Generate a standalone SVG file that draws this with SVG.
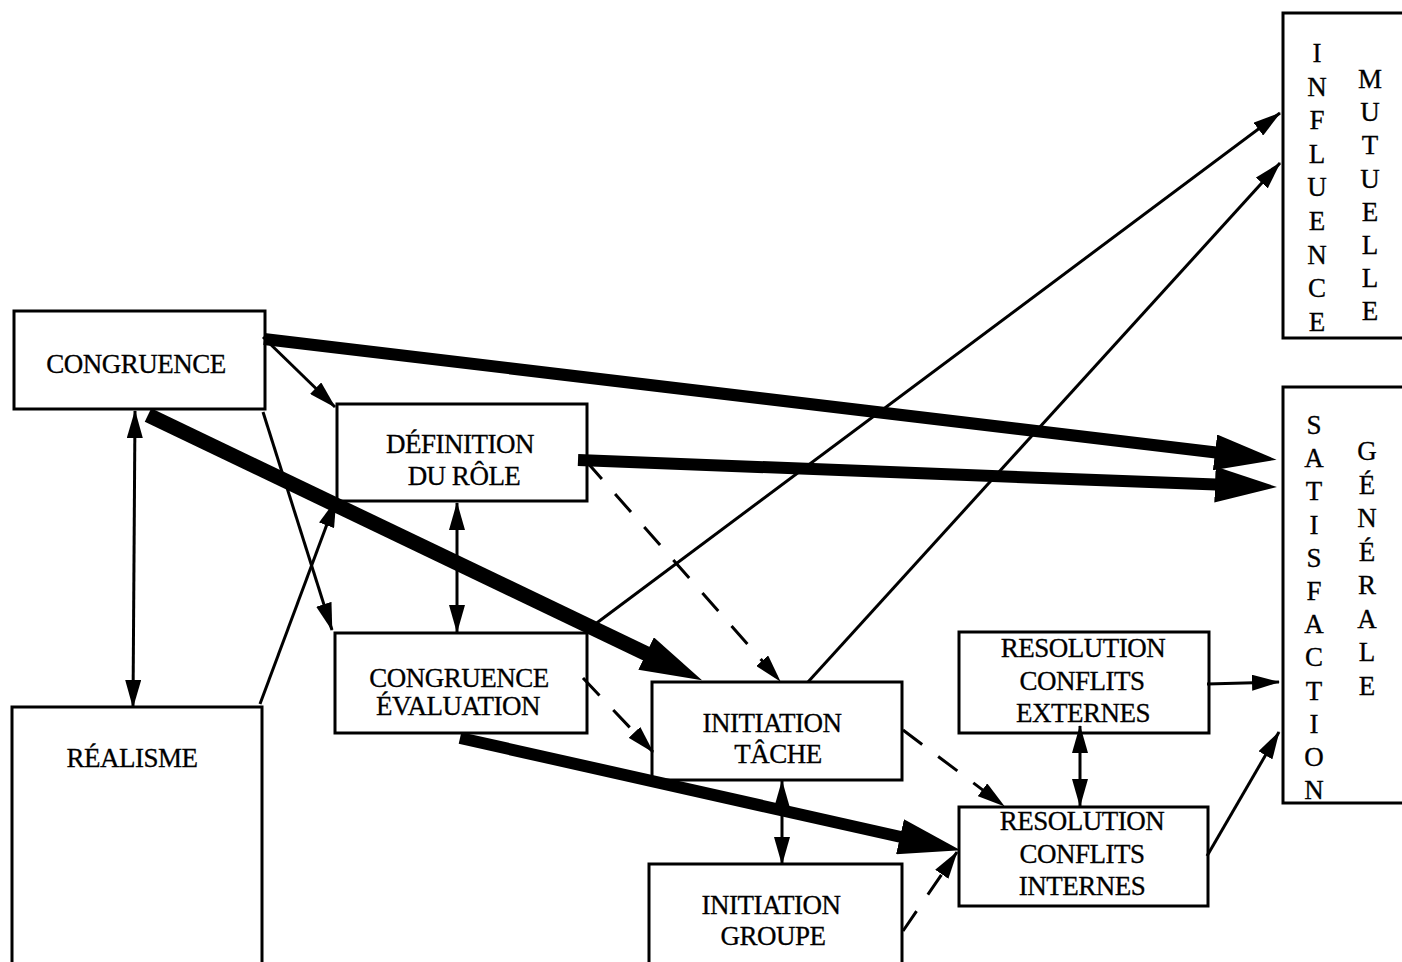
<svg xmlns="http://www.w3.org/2000/svg" width="1402" height="962" viewBox="0 0 1402 962">
  <style>
    .box { fill: #fff; stroke: #000; stroke-width: 3; }
    .lbl { font-family: "Liberation Serif", "Times New Roman", serif; font-size: 27px; letter-spacing: -0.5px; text-anchor: middle; fill: #000; stroke: #000; stroke-width: 0.3; }
    .vl { font-family: "Liberation Serif", "Times New Roman", serif; font-size: 27px; text-anchor: middle; fill: #000; stroke: #000; stroke-width: 0.3; }
    .thin { fill: none; stroke: #000; stroke-width: 3; marker-end: url(#ah); }
    .bi { fill: none; stroke: #000; stroke-width: 3; marker-start: url(#ah); marker-end: url(#ah); }
    .dash { fill: none; stroke: #000; stroke-width: 3; stroke-dasharray: 24 20; marker-end: url(#ah); }
    .thick { fill: none; stroke: #000; stroke-width: 12; marker-end: url(#big); }
  </style>
  <defs>
    <marker id="ah" markerUnits="userSpaceOnUse" viewBox="0 0 28 16" markerWidth="28" markerHeight="16" refX="27" refY="8" orient="auto-start-reverse">
      <path d="M0,0 L28,8 L0,16 z" fill="#000"/>
    </marker>
    <marker id="big" markerUnits="userSpaceOnUse" viewBox="0 0 62 36" markerWidth="62" markerHeight="36" refX="1" refY="18" orient="auto">
      <path d="M0,0 L62,18 L0,36 z" fill="#000"/>
    </marker>
  </defs>

  <rect width="1402" height="962" fill="#fff"/>

  <g id="congruence">
    <rect class="box" x="14" y="311" width="251" height="98"/>
    <text class="lbl" x="136" y="373">CONGRUENCE</text>
  </g>
  <g id="realisme">
    <rect class="box" x="12" y="707" width="250" height="280"/>
    <text class="lbl" x="132" y="767">RÉALISME</text>
  </g>
  <g id="definition-role">
    <rect class="box" x="337" y="404" width="250" height="97"/>
    <text class="lbl" x="460" y="453">DÉFINITION</text>
    <text class="lbl" x="464" y="485">DU RÔLE</text>
  </g>
  <g id="congruence-evaluation">
    <rect class="box" x="335" y="633" width="252" height="100"/>
    <text class="lbl" x="459" y="687">CONGRUENCE</text>
    <text class="lbl" x="458" y="715">ÉVALUATION</text>
  </g>
  <g id="initiation-tache">
    <rect class="box" x="652" y="682" width="250" height="98"/>
    <text class="lbl" x="772" y="732">INITIATION</text>
    <text class="lbl" x="778" y="763">TÂCHE</text>
  </g>
  <g id="initiation-groupe">
    <rect class="box" x="649" y="864" width="253" height="130"/>
    <text class="lbl" x="771" y="914">INITIATION</text>
    <text class="lbl" x="773" y="945">GROUPE</text>
  </g>
  <g id="resolution-externes">
    <rect class="box" x="959" y="632" width="250" height="101"/>
    <text class="lbl" x="1083" y="657">RESOLUTION</text>
    <text class="lbl" x="1082" y="690">CONFLITS</text>
    <text class="lbl" x="1083" y="722">EXTERNES</text>
  </g>
  <g id="resolution-internes">
    <rect class="box" x="959" y="807" width="249" height="99"/>
    <text class="lbl" x="1082" y="830">RESOLUTION</text>
    <text class="lbl" x="1082" y="863">CONFLITS</text>
    <text class="lbl" x="1082" y="895">INTERNES</text>
  </g>
  <g id="influence-mutuelle">
    <rect class="box" x="1283" y="13" width="140" height="325"/>
    <text class="vl" x="1317" y="62">I</text>
    <text class="vl" x="1317" y="96">N</text>
    <text class="vl" x="1317" y="129">F</text>
    <text class="vl" x="1317" y="163">L</text>
    <text class="vl" x="1317" y="196">U</text>
    <text class="vl" x="1317" y="230">E</text>
    <text class="vl" x="1317" y="264">N</text>
    <text class="vl" x="1317" y="297">C</text>
    <text class="vl" x="1317" y="331">E</text>
    <text class="vl" x="1370" y="88">M</text>
    <text class="vl" x="1370" y="121">U</text>
    <text class="vl" x="1370" y="154">T</text>
    <text class="vl" x="1370" y="188">U</text>
    <text class="vl" x="1370" y="221">E</text>
    <text class="vl" x="1370" y="254">L</text>
    <text class="vl" x="1370" y="287">L</text>
    <text class="vl" x="1370" y="320">E</text>
  </g>
  <g id="satisfaction-generale">
    <rect class="box" x="1283" y="387" width="140" height="416"/>
    <text class="vl" x="1314" y="434">S</text>
    <text class="vl" x="1314" y="467">A</text>
    <text class="vl" x="1314" y="500">T</text>
    <text class="vl" x="1314" y="534">I</text>
    <text class="vl" x="1314" y="567">S</text>
    <text class="vl" x="1314" y="600">F</text>
    <text class="vl" x="1314" y="633">A</text>
    <text class="vl" x="1314" y="666">C</text>
    <text class="vl" x="1314" y="700">T</text>
    <text class="vl" x="1314" y="733">I</text>
    <text class="vl" x="1314" y="766">O</text>
    <text class="vl" x="1314" y="799">N</text>
    <text class="vl" x="1367" y="460">G</text>
    <text class="vl" x="1367" y="494">É</text>
    <text class="vl" x="1367" y="527">N</text>
    <text class="vl" x="1367" y="561">É</text>
    <text class="vl" x="1367" y="594">R</text>
    <text class="vl" x="1367" y="628">A</text>
    <text class="vl" x="1367" y="661">L</text>
    <text class="vl" x="1367" y="695">E</text>
  </g>

  <g id="connectors">
    <!-- heavy paths -->
    <path class="thick" d="M264,339 L1216,452.5"/>
    <path class="thick" d="M578,460 L1216,484.6"/>
    <path class="thick" style="stroke-width:15" d="M148,415 L647,654"/>
    <path class="thick" d="M460,738 L901,837"/>
    <!-- plain paths -->
    <path class="thin" d="M263,337 L335,407"/>
    <path class="thin" d="M263,412 L332,630"/>
    <path class="thin" d="M260,704 L336,500"/>
    <path class="thin" d="M590,628 L1280,113"/>
    <path class="thin" d="M808,682 L1280,163"/>
    <path class="thin" d="M1207,684 L1279,682"/>
    <path class="thin" d="M1207,856 L1279,732"/>
    <!-- two-way links -->
    <path class="bi" d="M135,411 L133,707"/>
    <path class="bi" d="M457,503 L457,632"/>
    <path class="bi" d="M782,781 L782,864"/>
    <path class="bi" d="M1080,726 L1080,806"/>
    <!-- dashed links -->
    <path class="dash" d="M586,461 L780,681"/>
    <path class="dash" d="M583,678 L653,752"/>
    <path class="dash" d="M903,730 L1004,806"/>
    <path class="dash" d="M903,931 L957,852"/>
  </g>
</svg>
